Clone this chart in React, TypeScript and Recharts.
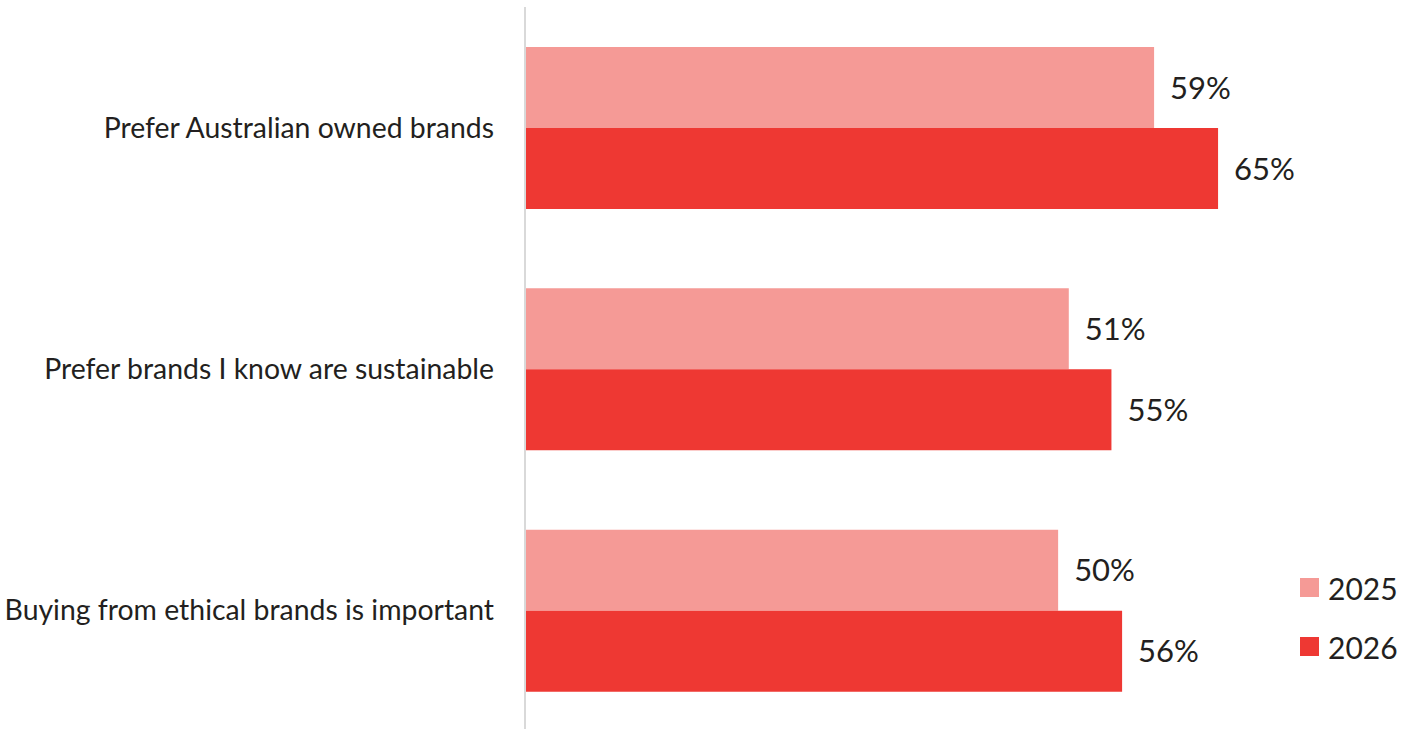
import { BarChart, Bar, XAxis, YAxis, Legend, LabelList } from 'recharts';

const categories = [
  'Prefer Australian owned brands',
  'Prefer brands I know are sustainable',
  'Buying from ethical brands is important',
];
const values2025 = [59, 51, 50];
const values2026 = [65, 55, 56];

const FONT = 'Lato, sans-serif';
const TEXT = '#231f20';
const COLORS = { y2025: '#f59a96', y2026: '#ee3833' };

const data = categories.map((name, i) => ({ name, y2025: values2025[i], y2026: values2026[i] }));

function LegendBox({ payload }: any) {
  return (
    <div style={{ fontFamily: FONT }}>
      {(payload || []).map((p: any) => (
        <div key={p.value} style={{ display: 'flex', alignItems: 'center', height: 59 }}>
          <div style={{ width: 19, height: 19, background: p.color, marginRight: 9 }} />
          <span style={{ fontSize: 30, color: TEXT }}>{p.value}</span>
        </div>
      ))}
    </div>
  );
}

export default function App() {
  return (
    <div style={{ position: 'absolute', left: 0, top: 0, width: 1402, height: 729, overflow: 'hidden', background: '#fff' }}>
      <BarChart
        width={1402}
        height={738}
        data={data}
        layout="vertical"
        margin={{ top: 7, right: 24, bottom: 7, left: 0 }}
        barCategoryGap={40}
        barGap={0}
      >
        <XAxis type="number" domain={[0, 80]} hide />
        <YAxis
          type="category"
          dataKey="name"
          width={525}
          axisLine={{ stroke: '#d9d9d9', strokeWidth: 2 }}
          tickLine={false}
          tickSize={0}
          tickMargin={31}
          tick={{ fontSize: 28.4, fill: TEXT, fontFamily: FONT }}
        />
        <Legend
          layout="vertical"
          align="center"
          verticalAlign="middle"
          wrapperStyle={{ left: 1300, top: 558, width: 110 }}
          content={<LegendBox />}
        />
        <Bar dataKey="y2025" name="2025" fill={COLORS.y2025} isAnimationActive={false}>
          <LabelList dataKey="y2025" position="right" offset={16} formatter={(v: any) => `${v}%`} style={{ fontSize: 31, fill: TEXT, fontFamily: FONT }} />
        </Bar>
        <Bar dataKey="y2026" name="2026" fill={COLORS.y2026} isAnimationActive={false}>
          <LabelList dataKey="y2026" position="right" offset={16} formatter={(v: any) => `${v}%`} style={{ fontSize: 31, fill: TEXT, fontFamily: FONT }} />
        </Bar>
      </BarChart>
    </div>
  );
}
